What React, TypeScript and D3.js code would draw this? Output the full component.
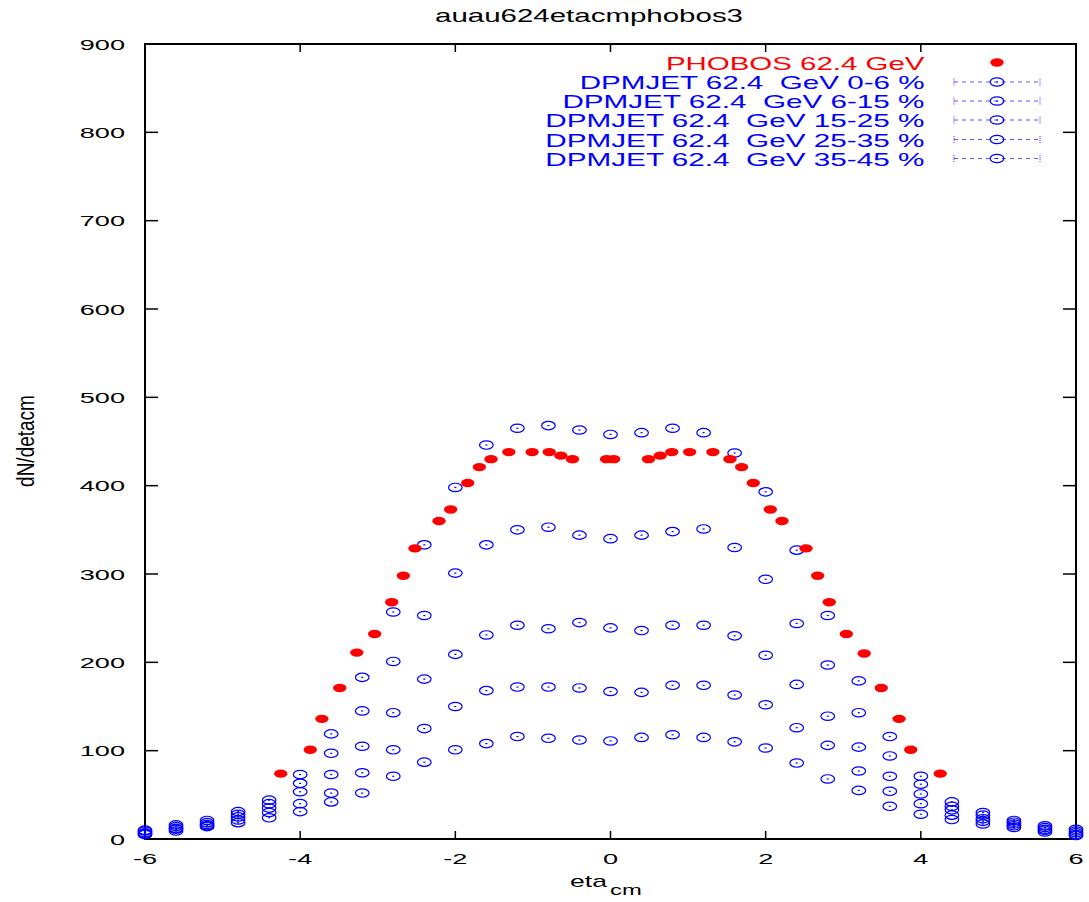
import React from "react";
import * as d3 from "d3";

const etaDpm = [-6, -5.6, -5.2, -4.8, -4.4, -4.0, -3.6, -3.2, -2.8, -2.4, -2.0, -1.6, -1.2, -0.8, -0.4, 0, 0.4, 0.8, 1.2, 1.6, 2.0, 2.4, 2.8, 3.2, 3.6, 4.0, 4.4, 4.8, 5.2, 5.6, 6.0];

const dpm0_6 = [10, 16, 21, 31, 44, 73, 119, 183, 257, 333, 398, 446, 465, 468, 463, 458, 460, 465, 460, 437, 393, 327, 253, 179, 116, 71, 42, 30, 21, 15, 11];
const dpm6_15 = [9, 14, 18.5, 28, 40, 63, 97, 145, 201, 253, 301, 333, 350, 353, 344, 340, 344, 348, 351, 330, 294, 244, 197, 143, 94, 62, 37, 27, 19, 13, 9];
const dpm15_25 = [7, 12, 16.4, 25, 35, 53.5, 73, 105, 143, 181, 209, 231, 242, 238, 245, 239, 236, 242, 242, 230, 208, 175, 139, 104, 71, 51, 33, 23, 17, 11, 7];
const dpm25_35 = [6, 11, 15, 21.5, 30, 40, 52, 75, 101, 125, 150, 168, 172, 172, 171, 167, 166, 174, 174, 163, 152, 126, 106, 77, 54, 40, 27, 20, 15, 10, 5];
const dpm35_45 = [5, 9, 14, 18.5, 24, 31, 42, 52, 71, 87, 101, 108, 116, 114, 112, 111, 115, 118, 115, 110, 103, 86, 68, 55, 37, 28, 22, 17, 13, 8, 4];

const etaPhobos = [-4.25, -3.87, -3.72, -3.49, -3.27, -3.04, -2.82, -2.67, -2.52, -2.21, -2.06, -1.84, -1.69, -1.54, -1.31, -1.01, -0.79, -0.64, -0.49, -0.05, 0.04, 0.49, 0.64, 0.79, 1.02, 1.32, 1.54, 1.69, 1.84, 2.06, 2.21, 2.52, 2.67, 2.82, 3.04, 3.27, 3.49, 3.72, 3.87, 4.25];
const phobos = [74, 101, 136, 171, 211, 232, 268, 298, 329, 360, 373, 403, 421, 430, 438, 438, 438, 434, 430, 430, 430, 430, 434, 438, 438, 438, 430, 421, 403, 373, 360, 329, 298, 268, 232, 210, 171, 136, 101, 74];

const xTicks = [-6, -4, -2, 0, 2, 4, 6];
const yTicks = [0, 100, 200, 300, 400, 500, 600, 700, 800, 900];

const titleText = "auau624etacmphobos3";
const phobosLabel = "PHOBOS 62.4 GeV";
const dpmLabels = [
  "DPMJET 62.4  GeV 0-6 %",
  "DPMJET 62.4  GeV 6-15 %",
  "DPMJET 62.4  GeV 15-25 %",
  "DPMJET 62.4  GeV 25-35 %",
  "DPMJET 62.4  GeV 35-45 %",
];
const dpmSeries = [dpm0_6, dpm6_15, dpm15_25, dpm25_35, dpm35_45];

const W = 1089;
const H = 902;
const L = 145, R = 1076, T = 44, B = 839;
const FONT = "'Liberation Sans', Arial, Helvetica, sans-serif";
const BLUE = "#0000ff";
const RED = "#ff0000";

export default function App() {
  const x = d3.scaleLinear().domain([-6, 6]).range([L, R]);
  const y = d3.scaleLinear().domain([0, 900]).range([B, T]);

  const BlueMark = ({ cx, cy }: { cx: number; cy: number }) => (
    <g>
      <ellipse cx={cx} cy={cy} rx={6.8} ry={4.2} fill="none" stroke={BLUE} strokeWidth={1.2} />
      <line x1={cx - 1} x2={cx + 1} y1={cy} y2={cy} stroke={BLUE} strokeWidth={1.2} />
    </g>
  );

  const legendTextStart = [579.7, 562.4, 545.2, 545.2, 545.2];
  const legendRight = 924.5;
  const rowY = [62.5, 82, 101, 120, 139.5, 158.5];

  return (
    <svg width={W} height={H} style={{ position: "absolute", left: 0, top: 0, background: "#fff" }} fontFamily={FONT}>
      <rect x={0} y={0} width={W} height={H} fill="#fff" />
      {/* title */}
      <text x={435} y={22} fontSize={19} textLength={308} lengthAdjust="spacingAndGlyphs" fill="#000">{titleText}</text>

      {/* ticks */}
      {xTicks.map((t) => (
        <g key={"xt" + t}>
          <line x1={x(t)} x2={x(t)} y1={B} y2={B - 8} stroke="#000" strokeWidth={1.5} />
          <line x1={x(t)} x2={x(t)} y1={T} y2={T + 8} stroke="#000" strokeWidth={1.5} />
          <text transform={`translate(${x(t)},${864}) scale(1.75,1)`} textAnchor="middle" fontSize={15.5} fill="#000">{t}</text>
        </g>
      ))}
      {yTicks.map((t) => (
        <g key={"yt" + t}>
          <line x1={L} x2={L + 13} y1={y(t)} y2={y(t)} stroke="#000" strokeWidth={1.5} />
          <line x1={R} x2={R - 13} y1={y(t)} y2={y(t)} stroke="#000" strokeWidth={1.5} />
          <text transform={`translate(${125},${y(t) + 5.5}) scale(1.75,1)`} textAnchor="end" fontSize={15.5} fill="#000">{t}</text>
        </g>
      ))}

      {/* frame */}
      <rect x={L} y={T} width={R - L} height={B - T} fill="none" stroke="#000" strokeWidth={2} />

      {/* axis labels */}
      <text transform={`translate(570,887) scale(1.66,1)`} fontSize={16} fill="#000">eta</text>
      <text transform={`translate(610,895) scale(1.7,1)`} fontSize={14} fill="#000">cm</text>
      <text transform={`translate(34,441) rotate(-90) scale(1,1.25)`} textAnchor="middle" fontSize={19} fill="#000">dN/detacm</text>

      {/* DPMJET series */}
      {dpmSeries.map((s, si) => (
        <g key={"s" + si}>
          {s.map((v, i) => (
            <BlueMark key={i} cx={x(etaDpm[i])} cy={y(v)} />
          ))}
        </g>
      ))}

      {/* PHOBOS */}
      {phobos.map((v, i) => (
        <ellipse key={"p" + i} cx={x(etaPhobos[i])} cy={y(v)} rx={6.7} ry={4.2} fill={RED} />
      ))}

      {/* legend */}
      <text x={665.9} y={rowY[0] + 7} fontSize={19} fill={RED} textLength={legendRight - 665.9} lengthAdjust="spacingAndGlyphs" style={{ whiteSpace: "pre" }}>{phobosLabel}</text>
      <ellipse cx={997} cy={rowY[0]} rx={6.7} ry={4.2} fill={RED} />
      {dpmLabels.map((lab, i) => {
        const ry = rowY[i + 1];
        return (
          <g key={"lg" + i}>
            <text x={legendTextStart[i]} y={ry + 7} fontSize={19} fill={BLUE} textLength={legendRight - legendTextStart[i]} lengthAdjust="spacingAndGlyphs" style={{ whiteSpace: "pre" }}>{lab}</text>
            <line x1={954} x2={1040} y1={ry} y2={ry} stroke={BLUE} strokeWidth={0.8} strokeDasharray="4,4" opacity={0.8} />
            <line x1={954} x2={954} y1={ry - 3.5} y2={ry + 3.5} stroke={BLUE} strokeWidth={0.8} strokeDasharray="1,1" />
            <line x1={1040} x2={1040} y1={ry - 3.5} y2={ry + 3.5} stroke={BLUE} strokeWidth={0.8} strokeDasharray="1,1" />
            <BlueMark cx={997} cy={ry} />
          </g>
        );
      })}
    </svg>
  );
}
